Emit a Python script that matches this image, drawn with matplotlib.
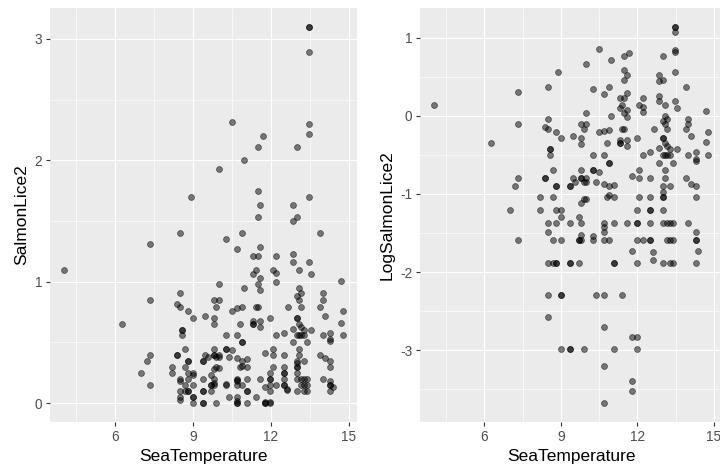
import numpy as np
import matplotlib
matplotlib.use("Agg")
import matplotlib.pyplot as plt
from matplotlib.ticker import MultipleLocator

plt.rcParams["font.family"] = ["Liberation Sans", "DejaVu Sans"]
plt.rcParams["axes.unicode_minus"] = False

# Sea temperature for each observation (grouped by lice level)
sea_temp = [
    13.47, 13.47,
    13.47,
    10.50,
    13.47,
    13.47,
    11.69,
    11.49, 12.99,
    10.98,
    9.99,
    11.49,
    8.91, 13.47,
    11.58, 12.85,
    11.49, 12.99,
    12.85,
    8.49, 13.89, 10.87,
    10.28,
    7.32,
    11.58,
    10.70,
    12.85,
    11.32, 11.49, 12.21,
    12.85, 13.47,
    4.02, 11.41, 12.08, 13.08,
    12.21,
    11.32, 13.56,
    11.58,
    14.69,
    12.21,
    9.99, 11.49,
    10.98, 13.08,
    11.58,
    8.49, 13.17, 13.99,
    12.99,
    7.32, 9.80, 9.99, 13.08, 13.99,
    8.39,
    8.49, 9.89, 11.41, 11.49, 12.67, 13.17, 13.89,
    10.87,
    10.70,
    8.82, 10.50, 14.78,
    9.47, 14.09,
    9.01, 9.80, 11.97, 12.99, 12.99,
    11.32, 11.58,
    14.69,
    6.27, 10.80, 11.32, 11.32, 13.08,
    9.80,
    11.58,
    13.17,
    12.85,
    8.58, 8.58, 13.27, 13.56,
    12.50, 14.28,
    8.58, 10.28, 10.70, 12.21, 12.99, 13.08, 13.17, 13.27, 13.99, 14.78,
    14.28,
    14.28,
    10.87, 10.87, 12.85, 13.38,
    8.69, 9.80, 10.28, 10.28, 12.08, 13.08,
    10.50,
    11.78,
    7.32, 8.39, 8.39, 9.47, 9.80, 9.80, 9.99, 12.08, 12.50, 13.08, 13.89,
    9.56, 9.89, 9.99, 10.38,
    10.70, 14.09,
    11.07,
    7.21, 8.82, 8.82, 9.37, 9.37, 10.87, 12.99, 13.27, 14.28,
    12.99,
    10.90,
    8.19, 8.69, 10.80, 11.07, 12.08, 12.50, 12.99, 12.99, 14.28,
    9.89,
    9.99,
    9.80,
    6.99, 8.19, 8.82, 9.01, 11.97, 12.50, 12.50, 12.99,
    9.01, 9.70,
    8.49, 8.82, 9.37, 9.80, 10.70, 11.07, 11.58, 11.97, 11.97, 12.50, 12.99, 13.17, 13.27, 13.38, 13.99,
    10.70,
    8.49, 10.70, 14.28,
    9.80,
    10.28,
    7.32, 8.69, 9.01, 9.70, 9.70, 9.80, 10.28, 10.70, 10.90, 11.97, 12.21, 12.50, 12.50, 13.17, 13.27, 13.38, 14.28, 14.28,
    11.78, 14.38,
    12.60,
    12.60,
    8.49, 8.69, 8.82, 8.82, 9.37, 9.37, 9.70, 11.07, 11.07, 11.97, 12.99, 13.27, 13.38, 14.28,
    8.49, 9.01, 9.01, 10.38, 10.70, 11.41,
    8.49,
    10.70,
    11.78, 11.97,
    9.01, 9.37, 9.37, 9.89, 11.07, 11.97,
    10.70,
    11.78,
    11.78,
    10.70,
]

# Lice count per fish
salmon_lice = [
    3.10, 3.10,
    2.89,
    2.32,
    2.30,
    2.22,
    2.20,
    2.11, 2.11,
    2.00,
    1.93,
    1.75,
    1.70, 1.70,
    1.63, 1.63,
    1.53, 1.53,
    1.50,
    1.40, 1.40, 1.40,
    1.35,
    1.31,
    1.29,
    1.27,
    1.23,
    1.21, 1.21, 1.21,
    1.16, 1.16,
    1.10, 1.10, 1.10, 1.10,
    1.07,
    1.06, 1.06,
    1.03,
    1.01,
    1.00,
    0.98, 0.98,
    0.95, 0.95,
    0.93,
    0.91, 0.91, 0.91,
    0.88,
    0.85, 0.85, 0.85, 0.85, 0.85,
    0.82,
    0.79, 0.79, 0.79, 0.79, 0.79, 0.79, 0.79,
    0.79,
    0.78,
    0.76, 0.76, 0.76,
    0.72, 0.72,
    0.70, 0.70, 0.70, 0.70, 0.70,
    0.68, 0.68,
    0.66,
    0.65, 0.65, 0.65, 0.65, 0.65,
    0.65,
    0.63,
    0.63,
    0.61,
    0.60, 0.60, 0.60, 0.60,
    0.58, 0.58,
    0.56, 0.56, 0.56, 0.56, 0.56, 0.56, 0.56, 0.56, 0.56, 0.56,
    0.53,
    0.51,
    0.50, 0.50, 0.50, 0.50,
    0.45, 0.45, 0.45, 0.45, 0.45, 0.45,
    0.44,
    0.41,
    0.40, 0.40, 0.40, 0.40, 0.40, 0.40, 0.40, 0.40, 0.40, 0.40, 0.40,
    0.38, 0.38, 0.38, 0.38,
    0.37, 0.37,
    0.36,
    0.35, 0.35, 0.35, 0.35, 0.35, 0.35, 0.35, 0.35, 0.35,
    0.33,
    0.31,
    0.30, 0.30, 0.30, 0.30, 0.30, 0.30, 0.30, 0.30, 0.30,
    0.30,
    0.29,
    0.28,
    0.25, 0.25, 0.25, 0.25, 0.25, 0.25, 0.25, 0.25,
    0.23, 0.23,
    0.20, 0.20, 0.20, 0.20, 0.20, 0.20, 0.20, 0.20, 0.20, 0.20, 0.20, 0.20, 0.20, 0.20, 0.20,
    0.19,
    0.18, 0.18, 0.18,
    0.17,
    0.16,
    0.15, 0.15, 0.15, 0.15, 0.15, 0.15, 0.15, 0.15, 0.15, 0.15, 0.15, 0.15, 0.15, 0.15, 0.15, 0.15, 0.15, 0.15,
    0.13, 0.13,
    0.12,
    0.11,
    0.10, 0.10, 0.10, 0.10, 0.10, 0.10, 0.10, 0.10, 0.10, 0.10, 0.10, 0.10, 0.10, 0.10,
    0.05, 0.05, 0.05, 0.05, 0.05, 0.05,
    0.03,
    0.02,
    0.01, 0.01,
    0.00, 0.00, 0.00, 0.00, 0.00, 0.00,
    0.00,
    0.00,
    0.00,
    0.00,
]

# Log-transformed lice count
log_salmon_lice = [
    1.14, 1.14,
    1.08,
    0.85,
    0.84,
    0.82,
    0.81,
    0.77, 0.77,
    0.72,
    0.66,
    0.59,
    0.56, 0.56,
    0.52, 0.52,
    0.46, 0.46,
    0.44,
    0.37, 0.37, 0.37,
    0.34,
    0.31,
    0.29,
    0.28,
    0.25,
    0.23, 0.23, 0.23,
    0.19, 0.19,
    0.14, 0.14, 0.14, 0.14,
    0.11,
    0.10, 0.10,
    0.08,
    0.06,
    0.05,
    0.03, 0.03,
    0.00, 0.00,
    -0.02,
    -0.04, -0.04, -0.04,
    -0.07,
    -0.11, -0.11, -0.11, -0.11, -0.11,
    -0.14,
    -0.17, -0.17, -0.17, -0.17, -0.17, -0.17, -0.17,
    -0.18,
    -0.19,
    -0.21, -0.21, -0.21,
    -0.26, -0.26,
    -0.29, -0.29, -0.29, -0.29, -0.29,
    -0.31, -0.31,
    -0.34,
    -0.35, -0.35, -0.35, -0.35, -0.35,
    -0.36,
    -0.38,
    -0.39,
    -0.41,
    -0.43, -0.43, -0.43, -0.43,
    -0.46, -0.46,
    -0.50, -0.50, -0.50, -0.50, -0.50, -0.50, -0.50, -0.50, -0.50, -0.50,
    -0.55,
    -0.58,
    -0.60, -0.60, -0.60, -0.60,
    -0.69, -0.69, -0.69, -0.69, -0.69, -0.69,
    -0.72,
    -0.77,
    -0.80, -0.80, -0.80, -0.80, -0.80, -0.80, -0.80, -0.80, -0.80, -0.80, -0.80,
    -0.85, -0.85, -0.85, -0.85,
    -0.87, -0.87,
    -0.88,
    -0.90, -0.90, -0.90, -0.90, -0.90, -0.90, -0.90, -0.90, -0.90,
    -0.98,
    -1.01,
    -1.04, -1.04, -1.04, -1.04, -1.04, -1.04, -1.04, -1.04, -1.04,
    -1.06,
    -1.07,
    -1.11,
    -1.20, -1.20, -1.20, -1.20, -1.20, -1.20, -1.20, -1.20,
    -1.29, -1.29,
    -1.37, -1.37, -1.37, -1.37, -1.37, -1.37, -1.37, -1.37, -1.37, -1.37, -1.37, -1.37, -1.37, -1.37, -1.37,
    -1.43,
    -1.49, -1.49, -1.49,
    -1.52,
    -1.54,
    -1.59, -1.59, -1.59, -1.59, -1.59, -1.59, -1.59, -1.59, -1.59, -1.59, -1.59, -1.59, -1.59, -1.59, -1.59, -1.59, -1.59, -1.59,
    -1.73, -1.73,
    -1.75,
    -1.84,
    -1.88, -1.88, -1.88, -1.88, -1.88, -1.88, -1.88, -1.88, -1.88, -1.88, -1.88, -1.88, -1.88, -1.88,
    -2.29, -2.29, -2.29, -2.29, -2.29, -2.29,
    -2.58,
    -2.71,
    -2.83, -2.83,
    -2.99, -2.99, -2.99, -2.99, -2.99, -2.99,
    -3.21,
    -3.40,
    -3.53,
    -3.68,
]

assert len(sea_temp) == len(salmon_lice) == len(log_salmon_lice)

PANEL_BG = "#EBEBEB"
TICK_COL = "#4D4D4D"


def expanded(values, frac=0.05):
    lo, hi = min(values), max(values)
    pad = (hi - lo) * frac
    return lo - pad, hi + pad


def gg_panel(ax, x, y, ylabel, ymajor):
    ax.set_facecolor(PANEL_BG)
    ax.scatter(x, y, s=18, facecolor=(0, 0, 0, 0.5), edgecolor=(0, 0, 0, 0.5),
               linewidths=0.6, zorder=3)
    ax.set_xlim(*expanded(x))
    ax.set_ylim(*expanded(y))
    ax.xaxis.set_major_locator(MultipleLocator(3))
    ax.xaxis.set_minor_locator(MultipleLocator(1.5))
    ax.yaxis.set_major_locator(MultipleLocator(ymajor))
    ax.yaxis.set_minor_locator(MultipleLocator(ymajor / 2))
    ax.grid(which="major", color="white", linewidth=0.85, zorder=0)
    ax.grid(which="minor", color="white", linewidth=0.45, zorder=0)
    ax.set_axisbelow(True)
    for sp in ax.spines.values():
        sp.set_visible(False)
    ax.tick_params(which="major", length=3, width=0.8, color="#333333",
                   labelcolor=TICK_COL, labelsize=9.8, pad=2.5)
    ax.tick_params(which="minor", length=0)
    ax.set_xlabel("SeaTemperature", fontsize=12.5, color="black", labelpad=4)
    ax.set_ylabel(ylabel, fontsize=12.5, color="black", labelpad=4)


fig = plt.figure(figsize=(7.2, 4.71), dpi=100)
ax1 = fig.add_axes([50 / 720, 1 - 422 / 471, 307 / 720, 414 / 471])
ax2 = fig.add_axes([420 / 720, 1 - 422 / 471, 302 / 720, 414 / 471])

gg_panel(ax1, sea_temp, salmon_lice, "SalmonLice2", 1)
gg_panel(ax2, sea_temp, log_salmon_lice, "LogSalmonLice2", 1)

fig.savefig("out.png", dpi=100)
